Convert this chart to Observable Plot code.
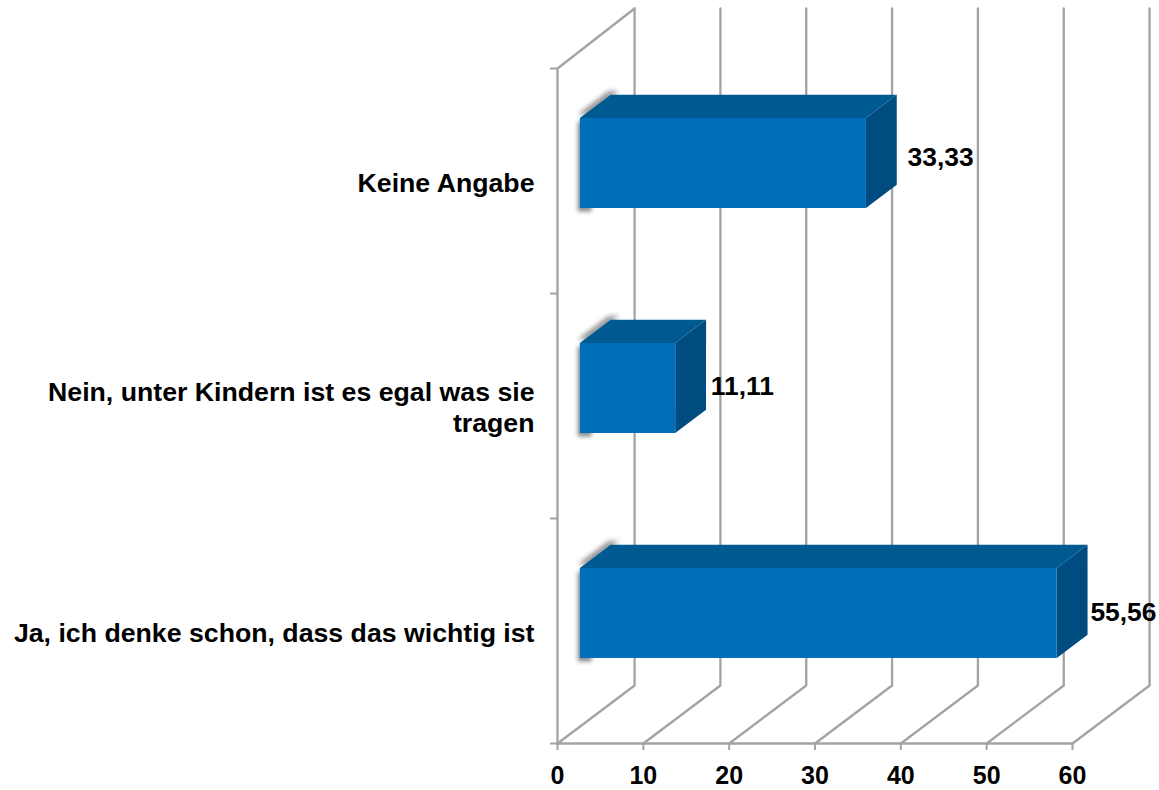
<!DOCTYPE html>
<html>
<head>
<meta charset="utf-8">
<style>html,body{margin:0;padding:0;background:#fff}svg{display:block}</style>
<script src="https://cdn.jsdelivr.net/npm/d3@7"></script>
<script src="https://cdn.jsdelivr.net/npm/@observablehq/plot@0.6"></script>
</head>
<body>
<script>
// Data (bottom to top)
const categories = ["Ja, ich denke schon, dass das wichtig ist", "Nein, unter Kindern ist es egal was sie\ntragen", "Keine Angabe"];
const values = [55.56, 11.11, 33.33];
const valueLabels = ["55,56", "11,11", "33,33"];
const xTicks = [0, 10, 20, 30, 40, 50, 60];
const yTicks = [0, 1, 2, 3];

// Oblique 3D layout, in scale units
const depthX = 8.98, depthY = 0.2578, topExtra = 0.009;
const barFront = 0.29, barBack = 0.69, barHalf = 0.2, barLift = 0.005;
const P = (v, c, d) => ({x: v + d * depthX, y: c + d * depthY});
const labelOffsets = [[56, -18.5], [58, -19.5], [64, -23.5]];
const font = {fontFamily: "Liberation Sans, Arial, sans-serif", fontWeight: "bold", fontSize: 26.4, fill: "#000"};
const gridColor = "#a3a3a3";

const polyline = (pts, key) => pts.map(p => ({...p, key}));
const grid = xTicks.flatMap(t => polyline([P(t, 0, 0), P(t, 0, 1), {...P(t, 3, 1), y: 3 + depthY + topExtra}], t));
const wall = polyline([P(0, 0, 0), P(0, 3, 0), {...P(0, 3, 1), y: 3 + depthY + topExtra}], "wall");
const floor = polyline([P(0, 0, 0), P(60, 0, 0)], "floor");

const face = (kind) => values.flatMap((v, i) => {
  const lo = i + 0.5 + barLift - barHalf, hi = i + 0.5 + barLift + barHalf;
  const pts = {
    front: [P(0, lo, barFront), P(v, lo, barFront), P(v, hi, barFront), P(0, hi, barFront)],
    top: [P(0, hi, barFront), P(v, hi, barFront), P(v, hi, barBack), P(0, hi, barBack)],
    side: [P(v, lo, barFront), P(v, lo, barBack), P(v, hi, barBack), P(v, hi, barFront)],
    shadowTop: [P(0, hi, barFront), P(1.2, hi, barFront), P(1.2, hi, barBack), P(0, hi, barBack)],
    shadowFront: [P(0, lo, barFront), P(1.6, lo, barFront), P(1.6, hi, barFront), P(0, hi, barFront)]
  }[kind];
  return polyline(pts, i);
});
const poly = (kind, fill, extra = {}) => Plot.line(face(kind), {x: "x", y: "y", z: "key", fill, stroke: null, curve: "linear-closed", ...extra});

const chart = Plot.plot({
  width: 1159, height: 790,
  marginLeft: 557, marginRight: 87, marginTop: 68, marginBottom: 47,
  x: {domain: [0, 60]},
  y: {domain: [0, 3]},
  marks: [
    Plot.line(grid, {x: "x", y: "y", z: "key", stroke: gridColor, strokeWidth: 2.3}),
    Plot.line(wall, {x: "x", y: "y", z: "key", stroke: gridColor, strokeWidth: 2.3}),
    Plot.line(floor, {x: "x", y: "y", z: "key", stroke: gridColor, strokeWidth: 2.3}),
    Plot.axisX(xTicks, {anchor: "bottom", stroke: gridColor, strokeWidth: 2, tickSize: 7, tickPadding: 16, tickFormat: String, label: null, ...font, fontSize: 25}),
    Plot.axisY(yTicks, {anchor: "left", stroke: gridColor, strokeWidth: 2, tickSize: 7, tickFormat: () => "", label: null}),
    poly("shadowTop", "#8a8a8a", {dx: -2, dy: -3.5, imageFilter: "blur(2.5px)"}),
    poly("shadowFront", "#8a8a8a", {dx: -2, dy: 3.5, imageFilter: "blur(2px)"}),
    poly("side", "#004b80"),
    poly("top", "#005a92"),
    poly("front", "#006eb8"),
    Plot.text(categories, {x: 0, y: (d, i) => i + 0.5, text: d => d, textAnchor: "end", dx: -23, dy: 0.5, lineHeight: 1.17, ...font, fontSize: 26.7}),
    ...values.map((v, i) => Plot.text([valueLabels[i]], {x: [v], y: [i + 0.5], text: d => d, textAnchor: "start", dx: labelOffsets[i][0], dy: labelOffsets[i][1], ...font}))
  ]
});
document.body.append(chart);
</script>
</body>
</html>
